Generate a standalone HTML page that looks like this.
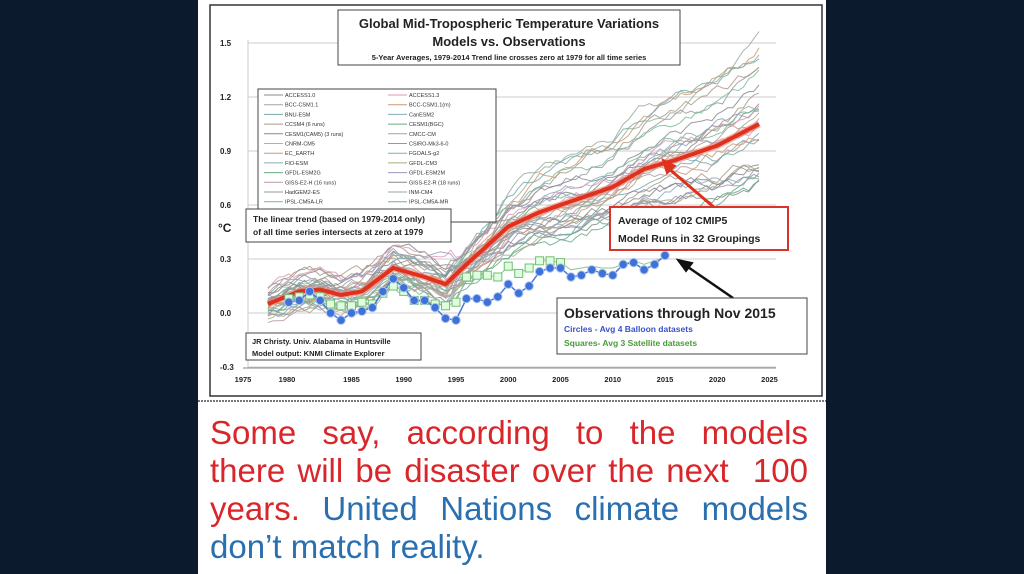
<!DOCTYPE html>
<html><head><meta charset="utf-8"><style>
html,body{margin:0;padding:0;width:1024px;height:574px;overflow:hidden;background:#0c1a2d;font-family:"Liberation Sans",sans-serif}
#panel{position:absolute;left:198px;top:0;width:628px;height:574px;background:#fff}
#txt{position:absolute;left:210px;top:414px;width:598px;font-size:33px;line-height:38px;text-align:justify;color:#d9262b;white-space:nowrap}
#txt span{color:#2a6fb0}
.l{display:block;text-align-last:justify;white-space:normal}
</style></head><body>
<div id="panel"></div>
<svg id="c" width="1024" height="574" style="position:absolute;left:0;top:0" font-family="Liberation Sans, sans-serif">
<rect x="210" y="5" width="612" height="391" fill="#fff" stroke="#333" stroke-width="1.5"/>
<line x1="198" y1="401" x2="826" y2="401" stroke="#777" stroke-width="2" stroke-dasharray="2,1"/>
<g id="grid"></g><g id="models"></g><g id="obs"></g>
</svg>
<div id="txt"><span class="l" style="color:#d9262b">Some say, according to the models</span><span class="l" style="color:#d9262b">there will be disaster over the next &nbsp;100</span><span class="l" style="color:#d9262b">years. <span>United Nations climate models</span></span><span>don’t match reality.</span></div>
<script>
var NS="http://www.w3.org/2000/svg",svg=document.getElementById('c');
function X(y){return 247+(y-1975)*10.45}function Y(v){return 313-v*180}
function el(t,a,p,tx){var e=document.createElementNS(NS,t);for(var k in a)e.setAttribute(k,a[k]);if(tx!=null)e.textContent=tx;(p||svg).appendChild(e);return e}
var g=document.getElementById('grid');
[1.5,1.2,0.9,0.6,0.3,0,-0.3].forEach(function(v){el('line',{x1:248,x2:776,y1:Y(v),y2:Y(v),stroke:'#ccc','stroke-width':1},g);el('text',{x:220,y:Y(v)+3,'font-size':8,'font-weight':'bold',fill:'#222'},g,v==0?'0.0':v.toFixed(1))});
el('line',{x1:248,x2:248,y1:40,y2:368,stroke:'#ccc'},g);
el('line',{x1:243,x2:776,y1:368,y2:368,stroke:'#888'},g);
for(var yr=1975;yr<=2025;yr+=5)el('text',{x:yr==1975?243:(yr==1980?287:X(yr)),y:382,'font-size':7.5,'font-weight':'bold','text-anchor':'middle',fill:'#222'},g,yr);
el('text',{x:218,y:232,'font-size':12,'font-weight':'bold',fill:'#222'},g,'°C');
var seed=7;function r(){seed=(seed*16807)%2147483647;return seed/2147483647}
var mean=[[1977,.05],[1980,.12],[1982,.13],[1984,.10],[1986,.12],[1989,.25],[1992,.20],[1994,.16],[1996,.27],[2000,.48],[2003,.56],[2006,.62],[2010,.70],[2013,.80],[2016,.85],[2020,.93],[2024,1.05]];
function mv(y){for(var i=0;i<mean.length-1;i++)if(y<=mean[i+1][0]){var a=mean[i],b=mean[i+1];return a[1]+(b[1]-a[1])*(y-a[0])/(b[0]-a[0])}return 1.05}
var cols=['#888','#9a9','#7aa','#a98','#889','#d9b','#c97','#8ab','#6a8','#b99','#999','#7b9','#aa8','#99b'];
var gm=document.getElementById('models');
for(var m=0;m<32;m++){var k=0.6+r()*0.9,off=(r()-.5)*.18,d='',n=0;
for(var y=1977;y<=2024;y+=0.5){n+=(r()-.5)*.06;n*=.9;var base=mv(y);var v=(y<1995?base:0.16+(base-0.16)*k)+off*(y<1995?1:.5)+n;d+=(d?'L':'M')+X(y).toFixed(1)+','+Y(v).toFixed(1)}
el('path',{d:d,fill:'none',stroke:cols[m%cols.length],'stroke-width':1,opacity:.85},gm)}
var d='';for(var y=1977;y<=2024;y+=0.5)d+=(d?'L':'M')+X(y)+','+Y(mv(y));
el('path',{d:d,fill:'none',stroke:'#f08070','stroke-width':7,opacity:.6},gm);
el('path',{d:d,fill:'none',stroke:'#e0301e','stroke-width':4},gm);
var go=document.getElementById('obs');
var sq=[.08,.09,.10,.09,.05,.04,.04,.06,.05,.11,.15,.12,.07,.07,.05,.04,.06,.20,.21,.21,.20,.26,.22,.25,.29,.29,.28,.24,.25,.26,.25,.25,.27,.29,.27,.29,.31];
var ci=[.06,.07,.12,.07,0,-.04,0,.01,.03,.12,.19,.14,.07,.07,.03,-.03,-.04,.08,.08,.06,.09,.16,.11,.15,.23,.25,.25,.20,.21,.24,.22,.21,.27,.28,.24,.27,.32];
var p='';sq.forEach(function(v,i){p+=(p?'L':'M')+X(1979+i)+','+Y(v)});
el('path',{d:p,fill:'none',stroke:'#8c8',"stroke-width":1},go);
sq.forEach(function(v,i){if(i<27)el('rect',{x:X(1979+i)-4,y:Y(v)-4,width:8,height:8,fill:'#dfd',stroke:'#7b7'},go)});
p='';ci.forEach(function(v,i){p+=(p?'L':'M')+X(1979+i)+','+Y(v)});
el('path',{d:p,fill:'none',stroke:'#4a78d8','stroke-width':1.5},go);
ci.forEach(function(v,i){el('circle',{cx:X(1979+i),cy:Y(v),r:4.2,fill:'#3f72d8',stroke:'#aac4f0','stroke-width':1},go)});
function box(x,y,w,h,c,sw){el('rect',{x:x,y:y,width:w,height:h,fill:'#fff',stroke:c||'#444','stroke-width':sw||1})}
box(338,10,342,55);
el('text',{x:509,y:28,'font-size':13,'font-weight':'bold','text-anchor':'middle',fill:'#222'},null,'Global Mid-Tropospheric Temperature Variations');
el('text',{x:509,y:46,'font-size':13,'font-weight':'bold','text-anchor':'middle',fill:'#222'},null,'Models vs. Observations');
el('text',{x:509,y:60,'font-size':7.5,'font-weight':'bold','text-anchor':'middle',fill:'#222'},null,'5-Year Averages, 1979-2014 Trend line crosses zero at 1979 for all time series');
box(258,89,238,133);
var L=['ACCESS1.0','BCC-CSM1.1','BNU-ESM','CCSM4 (6 runs)','CESM1(CAM5) (3 runs)','CNRM-CM5','EC_EARTH','FIO-ESM','GFDL-ESM2G','GISS-E2-H (16 runs)','HadGEM2-ES','IPSL-CM5A-LR','IPSL-CM5B-LR'],R=['ACCESS1.3','BCC-CSM1.1(m)','CanESM2','CESM1(BGC)','CMCC-CM','CSIRO-Mk3-6-0','FGOALS-g2','GFDL-CM3','GFDL-ESM2M','GISS-E2-R (18 runs)','INM-CM4','IPSL-CM5A-MR','MIROC5'];
for(var i=0;i<13;i++){var yy=95+i*9.7;
el('line',{x1:264,x2:283,y1:yy,y2:yy,stroke:cols[i],'stroke-width':1});el('text',{x:285,y:yy+2,'font-size':5.5,fill:'#333'},null,L[i]);
el('line',{x1:388,x2:407,y1:yy,y2:yy,stroke:cols[(i+5)%14],'stroke-width':1});el('text',{x:409,y:yy+2,'font-size':5.5,fill:'#333'},null,R[i]);}
box(246,209,205,33);
el('text',{x:253,y:222,'font-size':8.5,'font-weight':'bold',fill:'#222'},null,'The linear trend (based on 1979-2014 only)');
el('text',{x:253,y:235,'font-size':8.5,'font-weight':'bold',fill:'#222'},null,'of all time series intersects at zero at 1979');
box(246,333,175,27);
el('text',{x:252,y:344,'font-size':7.5,'font-weight':'bold',fill:'#222'},null,'JR Christy. Univ. Alabama in Huntsville');
el('text',{x:252,y:356,'font-size':7.5,'font-weight':'bold',fill:'#222'},null,'Model output: KNMI Climate Explorer');
el('line',{x1:723,y1:215,x2:668,y2:168,stroke:'#e0301e','stroke-width':3});
el('path',{d:'M663,160 L675,166 L667,173Z',fill:'#e0301e',stroke:'#e0301e','stroke-width':2});
box(610,207,178,43,'#d9332b',2);
el('text',{x:618,y:224,'font-size':10.5,'font-weight':'bold',fill:'#222'},null,'Average of 102 CMIP5');
el('text',{x:618,y:242,'font-size':10.5,'font-weight':'bold',fill:'#222'},null,'Model Runs in 32 Groupings');
el('line',{x1:733,y1:298,x2:685,y2:265,stroke:'#111','stroke-width':2.5});
el('path',{d:'M678,260 L692,263 L686,271Z',fill:'#111',stroke:'#111','stroke-width':2});
box(557,298,250,56);
el('text',{x:564,y:318,'font-size':14,'font-weight':'bold',fill:'#222'},null,'Observations through Nov 2015');
el('text',{x:564,y:332,'font-size':8.5,'font-weight':'bold',fill:'#3850c8'},null,'Circles - Avg 4 Balloon datasets');
el('text',{x:564,y:346,'font-size':8.5,'font-weight':'bold',fill:'#4a9a3a'},null,'Squares- Avg 3 Satellite datasets');
</script>
</body></html>
